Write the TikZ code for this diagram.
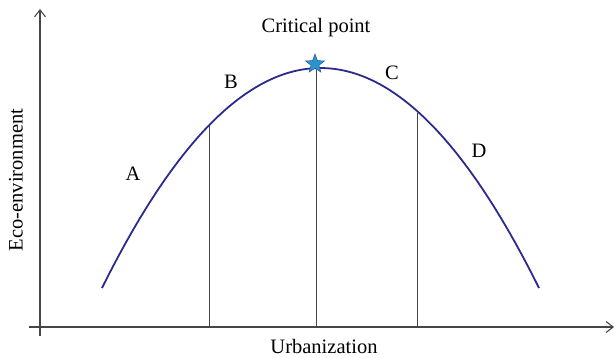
\documentclass[tikz,border=0pt]{standalone}
\usepackage{fontspec}
\setmainfont{Liberation Serif}
\usepackage{xcolor}
\usepackage{tikz}
\usetikzlibrary{arrows.meta, positioning, shapes.geometric}
\definecolor{CurveBlue}{RGB}{44, 42, 140}
\definecolor{StarBlue}{RGB}{40, 150, 205}
\definecolor{AxisGray}{RGB}{70, 70, 70}
\tikzset{
  axisline/.style={AxisGray, line width=1.1pt, -{Straight Barb[length=7pt, width=11pt]}},
  dropline/.style={AxisGray, line width=0.9pt},
  lbl/.style={font=\fontsize{20.5}{24}\selectfont, inner sep=0pt}
}

\begin{document}
\begin{tikzpicture}[x=1pt, y=-1pt]
    \path[use as bounding box] (0,0) rectangle (614,357);
    % axes
    \coordinate (yfoot) at (40,336);
    \coordinate (ytop) at (40,9);
    \coordinate (xfoot) at (29,327);
    \coordinate (xtip) at (614,327);
    \draw[axisline] (yfoot) -- (ytop);
    \draw[axisline] (xfoot) -- (xtip);
    % points on the curve and their feet on the axis
    \coordinate (start) at (102,288);
    \coordinate (stop) at (539,288);
    \coordinate (ab) at (209,124);
    \coordinate (peak) at (316,68);
    \coordinate (cd) at (417,113);
    \coordinate (abfoot) at (209,327);
    \coordinate (peakfoot) at (316,327);
    \coordinate (cdfoot) at (417,327);
    \draw[dropline] (ab) -- (abfoot);
    \draw[dropline] (peak) -- (peakfoot);
    \draw[dropline] (cd) -- (cdfoot);
    % curve
    \draw[CurveBlue, line width=1.8pt] (start) .. controls (247.7,-5.3) and (393.3,-5.3) .. (stop);
    \node[star, star points=5, star point ratio=2.4, fill=StarBlue, draw=CurveBlue!60!StarBlue, line width=0.5pt, minimum size=20pt, inner sep=0pt] (critical) at (315,64) {};
    % labels
    \node[lbl] (crit) at (316,28) {Critical point};
    \node[lbl] (A) at (133,174) {A};
    \node[lbl] (B) at (231,82) {B};
    \node[lbl] (C) at (392,73) {C};
    \node[lbl] (D) at (479,151) {D};
    \node[lbl] (xlab) at (324,346) {Urbanization};
    \node[lbl, rotate=90] (ylab) at (16,180) {Eco-environment};
\end{tikzpicture}
\end{document}
